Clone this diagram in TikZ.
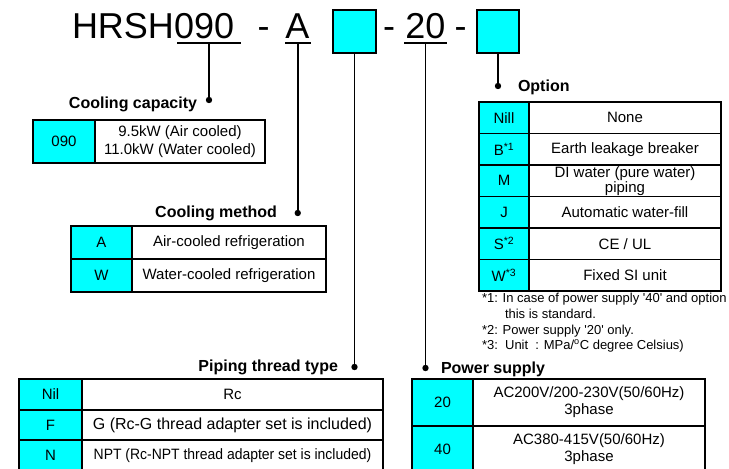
\documentclass[tikz,border=0pt]{standalone}
\usepackage{fontspec}
\usetikzlibrary{calc}
\setmainfont{Liberation Sans}
\definecolor{keycyan}{RGB}{0,255,255}
\begin{document}
\begin{tikzpicture}[x=1pt,y=-1pt,
  every node/.style={inner sep=0pt, outer sep=0pt},
  titlefont/.style={font=\fontsize{36}{40}\selectfont},
  headfont/.style={font=\bfseries\fontsize{16}{19}\selectfont},
  notefont/.style={font=\fontsize{13}{16}\selectfont},
  cellbase/.style={draw=black, line width=1.2pt, anchor=north west, align=center, font=\fontsize{15}{18}\selectfont},
  keycell/.style={cellbase, fill=keycyan},
  desccell/.style={cellbase, fill=white},
  tightcell/.style={desccell, font=\fontsize{15}{13}\selectfont},
  codebox/.style={draw=black, line width=1.4pt, fill=keycyan, minimum width=43pt, minimum height=43pt},
  uline/.style={line width=1.6pt},
  conn/.style={line width=1.8pt},
  topline/.style={line width=2.4pt},
  dot/.style={fill=black}
]
\useasboundingbox (0,0) rectangle (729,469);

% ---------- title ----------
\node[titlefont, anchor=base west] (hrsh) at (72,38) {HRSH};
\node[titlefont, anchor=base west] (c090) at (hrsh.base east) {090};
\node[titlefont, anchor=base] (dash1) at (263.5,38) {-};
\node[titlefont, anchor=base] (cA) at (297.5,38) {A};
\node[codebox] (box1) at (354.5,31.5) {};
\node[titlefont, anchor=base] (dash2) at (389,38) {-};
\node[titlefont, anchor=base] (c20) at (425.5,38) {20};
\node[titlefont, anchor=base] (dash3) at (460.5,38) {-};
\node[codebox, minimum width=42pt] (box2) at (498,31.5) {};

% underlines
\coordinate (u090a) at (177,43);
\coordinate (u090b) at (241,43);
\coordinate (uAa) at (285,43);
\coordinate (uAb) at (310.5,43);
\coordinate (u20a) at (404,43);
\coordinate (u20b) at (447,43);
\draw[uline] (u090a) -- (u090b);
\draw[uline] (uAa) -- (uAb);
\draw[uline] (u20a) -- (u20b);
\coordinate (u090) at ($(u090a)!0.5!(u090b)$);
\coordinate (uA) at ($(uAa)!0.5!(uAb)$);
\coordinate (u20) at ($(u20a)!0.5!(u20b)$);

% ---------- connector end points ----------
\coordinate (d090) at (u090 |- 0,100);
\coordinate (dA) at (uA |- 0,213);
\coordinate (dB1) at (box1.south |- 0,367);
\coordinate (d20) at (u20 |- 0,368);
\coordinate (dB2) at (box2.south |- 0,86);

\draw[conn] (u090) -- (d090);
\draw[conn] (uA) -- (dA);
\draw[conn] (box1.south) -- (dB1);
\draw[conn] (u20) -- (d20);
\draw[conn] (box2.south) -- (dB2);
\foreach \p in {d090,dA,dB1,d20,dB2} \fill[dot] (\p) circle (3.2pt);

% ---------- headings ----------
\node[headfont, anchor=base east] (hcap) at (197,108) {Cooling capacity};
\node[headfont, anchor=base east] (hmet) at (277,217) {Cooling method};
\node[headfont, anchor=base west] (hopt) at (518,91) {Option};
\node[headfont, anchor=base east] (hpip) at (338,371) {Piping thread type};
\node[headfont, anchor=base west] (hpow) at (441,373) {Power supply};

% ---------- cooling capacity table ----------
\node[keycell, minimum width=62pt, minimum height=43pt] (k090) at (33,120) {090};
\node[desccell, minimum width=170pt, minimum height=43pt] (t090) at (95,120) {9.5kW (Air cooled)\\11.0kW (Water cooled)};
\draw[topline] (k090.north west) -- (t090.north east);

% ---------- cooling method table ----------
\node[keycell, minimum width=61pt, minimum height=33pt] (kA) at (71,226) {A};
\node[desccell, minimum width=194pt, minimum height=33pt] (tA) at (132,226) {Air-cooled refrigeration};
\node[keycell, minimum width=61pt, minimum height=33pt] (kW) at (71,259) {W};
\node[desccell, minimum width=194pt, minimum height=33pt] (tW) at (132,259) {Water-cooled refrigeration};
\draw[topline] (kA.north west) -- (tA.north east);

% ---------- option table ----------
\node[keycell, minimum width=50pt, minimum height=31.5pt] (o1) at (479,102) {Nill};
\node[desccell, minimum width=192pt, minimum height=31.5pt] (ot1) at (529,102) {None};
\node[keycell, minimum width=50pt, minimum height=31.5pt] (o2) at (479,133.5) {B\textsuperscript{*1}};
\node[desccell, minimum width=192pt, minimum height=31.5pt] (ot2) at (529,133.5) {Earth leakage breaker};
\node[keycell, minimum width=50pt, minimum height=31.5pt] (o3) at (479,165) {M};
\node[tightcell, minimum width=192pt, minimum height=31.5pt] (ot3) at (529,165) {DI water (pure water)\\piping};
\node[keycell, minimum width=50pt, minimum height=31.5pt] (o4) at (479,196.5) {J};
\node[desccell, minimum width=192pt, minimum height=31.5pt] (ot4) at (529,196.5) {Automatic water-fill};
\node[keycell, minimum width=50pt, minimum height=31.5pt] (o5) at (479,228) {S\textsuperscript{*2}};
\node[desccell, minimum width=192pt, minimum height=31.5pt] (ot5) at (529,228) {CE / UL};
\node[keycell, minimum width=50pt, minimum height=31.5pt] (o6) at (479,259.5) {W\textsuperscript{*3}};
\node[desccell, minimum width=192pt, minimum height=31.5pt] (ot6) at (529,259.5) {Fixed SI unit};
\draw[topline] (o1.north west) -- (ot1.north east);

% ---------- footnotes ----------
\node[notefont, anchor=base west] (n1) at (482,302) {*1: In case of power supply \textquotesingle 40\textquotesingle\ and option};
\node[notefont, anchor=base west] (n1b) at (505,318) {this is standard.};
\node[notefont, anchor=base west] (n2) at (482,334) {*2: Power supply \textquotesingle 20\textquotesingle\ only.};
\node[notefont, anchor=base west] (n3) at (482,349) {*3:\ \ Unit\ \ : MPa/\textsuperscript{o}C degree Celsius)};

% ---------- piping thread type table ----------
\node[keycell, minimum width=63pt, minimum height=31pt] (p1) at (19,379) {Nil};
\node[desccell, minimum width=301pt, minimum height=31pt] (pt1) at (82,379) {Rc};
\node[keycell, minimum width=63pt, minimum height=30pt] (p2) at (19,410) {F};
\node[desccell, minimum width=301pt, minimum height=30pt, font=\fontsize{16}{18}\selectfont] (pt2) at (82,410) {G (Rc-G thread adapter set is included)};
\node[keycell, minimum width=63pt, minimum height=31pt] (p3) at (19,440) {N};
\node[desccell, minimum width=301pt, minimum height=31pt] (pt3) at (82,440) {\scalebox{0.93}[1]{NPT (Rc-NPT thread adapter set is included)}};
\draw[topline] (p1.north west) -- (pt1.north east);

% ---------- power supply table ----------
\node[keycell, minimum width=61pt, minimum height=47pt] (w1) at (412,379) {20};
\node[desccell, minimum width=232pt, minimum height=47pt, font=\fontsize{15}{17}\selectfont] (wt1) at (473,379) {AC200V/200-230V(50/60Hz)\\3phase};
\node[keycell, minimum width=61pt, minimum height=47pt] (w2) at (412,426) {40};
\node[desccell, minimum width=232pt, minimum height=47pt, font=\fontsize{15}{17}\selectfont] (wt2) at (473,426) {AC380-415V(50/60Hz)\\3phase};
\draw[topline] (w1.north west) -- (wt1.north east);
\end{tikzpicture}
\end{document}
